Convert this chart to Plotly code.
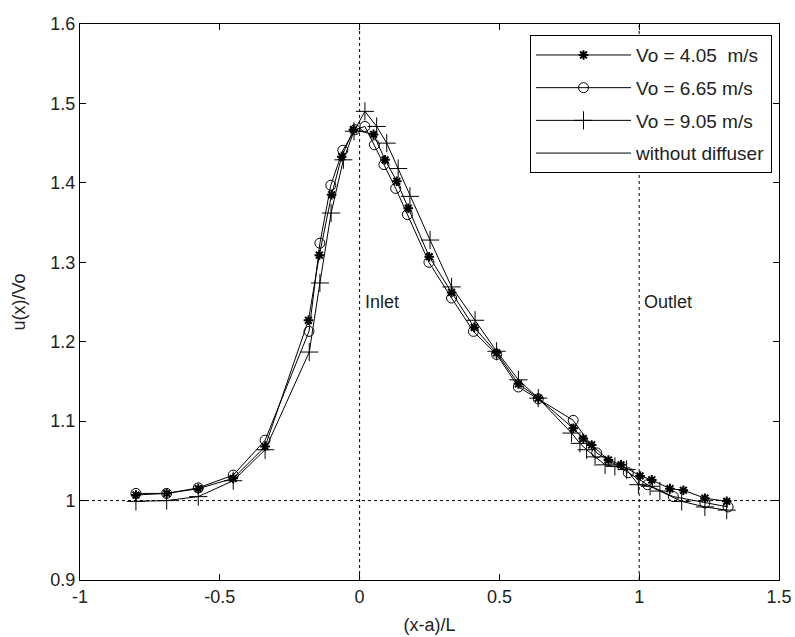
import plotly.graph_objects as go

# Vo = 4.05 m/s (asterisk markers)
x1 = [-0.80, -0.69, -0.577, -0.452, -0.338, -0.183, -0.144, -0.10, -0.064, -0.022, 0.05, 0.091,
      0.133, 0.174, 0.249, 0.329, 0.41, 0.49, 0.568, 0.639, 0.764, 0.80, 0.83, 0.89, 0.935,
      1.003, 1.045, 1.11, 1.158, 1.235, 1.313]
y1 = [1.007, 1.009, 1.015, 1.028, 1.068, 1.227, 1.309, 1.385, 1.433, 1.467, 1.461, 1.429,
      1.402, 1.368, 1.307, 1.262, 1.218, 1.186, 1.147, 1.129, 1.091, 1.078, 1.07, 1.051, 1.045,
      1.031, 1.026, 1.015, 1.013, 1.003, 0.999]

# Vo = 6.65 m/s (open circles)
x2 = [-0.80, -0.69, -0.577, -0.452, -0.338, -0.181, -0.142, -0.103, -0.06, -0.016, 0.019, 0.053,
      0.087, 0.129, 0.171, 0.248, 0.329, 0.407, 0.49, 0.568, 0.639, 0.764, 0.848, 0.961, 1.03,
      1.122, 1.235, 1.318]
y2 = [1.009, 1.009, 1.016, 1.032, 1.076, 1.213, 1.324, 1.397, 1.441, 1.467, 1.471, 1.448,
      1.423, 1.393, 1.36, 1.30, 1.255, 1.213, 1.184, 1.143, 1.128, 1.101, 1.06, 1.035, 1.02,
      1.005, 0.997, 0.992]

# Vo = 9.05 m/s (plus markers)
x3 = [-0.80, -0.69, -0.577, -0.452, -0.338, -0.18, -0.142, -0.102, -0.058, -0.02, 0.019, 0.061,
      0.097, 0.138, 0.18, 0.252, 0.329, 0.413, 0.49, 0.568, 0.639, 0.758, 0.788, 0.812, 0.842,
      0.878, 0.913, 0.955, 0.997, 1.039, 1.074, 1.152, 1.235, 1.313]
y3 = [0.999, 1.0, 1.005, 1.025, 1.064, 1.187, 1.274, 1.362, 1.429, 1.465, 1.49, 1.471,
      1.45, 1.418, 1.383, 1.328, 1.269, 1.227, 1.188, 1.152, 1.129, 1.085, 1.072, 1.064, 1.055,
      1.045, 1.043, 1.039, 1.02, 1.018, 1.012, 0.999, 0.992, 0.988]

# reference line (without diffuser) and inlet/outlet positions
ref_x = [-1, 1.5]
ref_y = [1, 1]
inlet_x, outlet_x = 0, 1
y_range = [0.9, 1.6]
x_range = [-1, 1.5]
xticks = [-1, -0.5, 0, 0.5, 1, 1.5]
xtick_text = ["-1", "-0.5", "0", "0.5", "1", "1.5"]
yticks = [0.9, 1.0, 1.1, 1.2, 1.3, 1.4, 1.5, 1.6]
ytick_text = ["0.9", "1", "1.1", "1.2", "1.3", "1.4", "1.5", "1.6"]

FONT = "Liberation Sans, Arial, sans-serif"
FS = 18
TXT = "#222222"

fig = go.Figure()

fig.add_trace(go.Scatter(x=x1, y=y1, mode="lines+markers", name="Vo = 4.05  m/s",
                         legendgroup="a",
                         line=dict(color="black", width=1),
                         marker=dict(symbol="asterisk-open", size=8, color="black",
                                     line=dict(color="black", width=2))))
fig.add_trace(go.Scatter(x=x2, y=y2, mode="lines+markers", name="Vo = 6.65 m/s",
                         legendgroup="b",
                         line=dict(color="black", width=1),
                         marker=dict(symbol="circle-open", size=10, color="black",
                                     line=dict(color="black", width=1))))
fig.add_trace(go.Scatter(x=x3, y=y3, mode="lines+markers", name="Vo = 9.05 m/s",
                         legendgroup="c",
                         line=dict(color="black", width=1),
                         marker=dict(symbol="cross-thin-open", size=13, color="black",
                                     line=dict(color="black", width=1))))
# reference line drawn dotted, legend entry solid
fig.add_trace(go.Scatter(x=ref_x, y=ref_y, mode="lines", showlegend=False,
                         line=dict(color="black", width=1, dash="dot")))
fig.add_trace(go.Scatter(x=[None], y=[None], mode="lines", name="without diffuser",
                         legendgroup="d",
                         line=dict(color="black", width=1)))

for xv in (inlet_x, outlet_x):
    fig.add_trace(go.Scatter(x=[xv, xv], y=y_range, mode="lines", showlegend=False,
                             line=dict(color="black", width=1, dash="dot")))

fig.add_annotation(x=inlet_x, y=1.25, text="Inlet", showarrow=False, xanchor="left",
                   xshift=3, font=dict(family=FONT, size=FS, color=TXT))
fig.add_annotation(x=outlet_x, y=1.25, text="Outlet", showarrow=False, xanchor="left",
                   xshift=3, font=dict(family=FONT, size=FS, color=TXT))

axis_common = dict(showgrid=False, zeroline=False, showline=True, linecolor="black",
                   linewidth=1, mirror="ticks", ticks="inside", ticklen=6,
                   tickcolor="black", tickfont=dict(family=FONT, size=FS, color=TXT),
                   automargin=False)

fig.update_xaxes(range=x_range, tickvals=xticks, ticktext=xtick_text,
                 title=dict(text="(x-a)/L", font=dict(family=FONT, size=FS, color=TXT),
                            standoff=12),
                 **axis_common)
fig.update_yaxes(range=y_range, tickvals=yticks, ticktext=ytick_text,
                 title=dict(text="u(x)/Vo", font=dict(family=FONT, size=FS, color=TXT),
                            standoff=20),
                 **axis_common)

fig.update_layout(
    width=795, height=637,
    margin=dict(l=80, r=16, t=24, b=57),
    plot_bgcolor="white", paper_bgcolor="white",
    font=dict(family=FONT, size=FS, color=TXT),
    legend=dict(x=0.99, y=0.98, xanchor="right", yanchor="top",
                bordercolor="black", borderwidth=1, bgcolor="white",
                font=dict(family=FONT, size=19, color=TXT),
                traceorder="grouped", tracegroupgap=5, itemwidth=95),
)

fig.write_html("out.html")
